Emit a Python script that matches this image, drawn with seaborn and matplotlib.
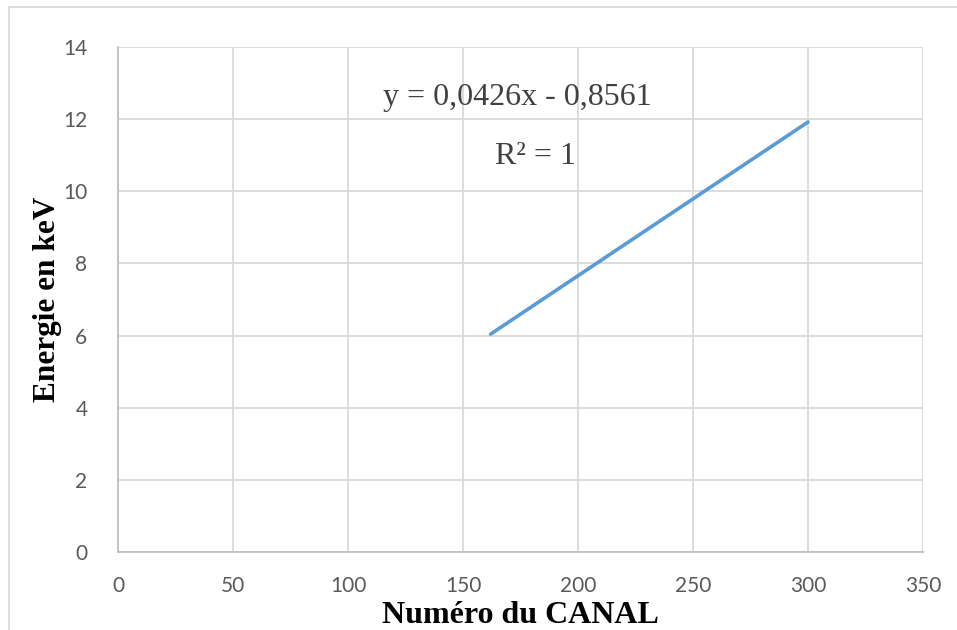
import matplotlib
matplotlib.use("Agg")
import matplotlib.pyplot as plt
import seaborn as sns
import pandas as pd
from matplotlib.patches import Rectangle

canal = [162, 300]
energie = [6.04, 11.92]
x_ticks = [0, 50, 100, 150, 200, 250, 300, 350]
y_ticks = [0, 2, 4, 6, 8, 10, 12, 14]
equation = "y = 0,0426x - 0,8561"
r2 = "R² = 1"

sns.set_theme(style="white")
plt.rcParams['font.family'] = ['Lato', 'DejaVu Sans']

df = pd.DataFrame({"canal": canal, "energie": energie})

fig = plt.figure(figsize=(9.57, 6.3), dpi=100)
ax = fig.add_axes([118/957, 1-552/630, (923-118)/957, (552-47)/630])

sns.lineplot(data=df, x="canal", y="energie", ax=ax, color="#5B9BD5", linewidth=2.6,
             solid_capstyle="round")

ax.set_xlim(0, 350)
ax.set_ylim(0, 14)
ax.set_xticks(x_ticks)
ax.set_yticks(y_ticks)
ax.grid(True, color="#D9D9D9", linewidth=1.3)
ax.set_axisbelow(True)
for s in ["top", "right"]:
    ax.spines[s].set_visible(False)
for s in ["left", "bottom"]:
    ax.spines[s].set_color("#BFBFBF")
    ax.spines[s].set_linewidth(1.3)
ax.tick_params(axis="both", length=0, labelsize=15, colors="#595959")
ax.tick_params(axis="y", pad=22)
ax.tick_params(axis="x", pad=17)

ax.set_xlabel("Numéro du CANAL", family=["Liberation Serif"], fontweight="bold",
              fontsize=23, color="black", labelpad=4)
ax.set_ylabel("Energie en keV", family=["Liberation Serif"], fontweight="bold",
              fontsize=22.5, color="black")
ax.yaxis.set_label_coords(-0.069, 0.5)

fig.text(517/957, 1-97/630, equation, family=["Liberation Serif"], fontsize=23,
         color="#404040", ha="center", va="center")
fig.text(535/957, 1-157/630, r2, family=["Liberation Serif"], fontsize=23,
         color="#404040", ha="center", va="center")

# outer chart frame
fig.patches.append(Rectangle((9/957, -0.1), 1.0, 1.1 - 7/630, transform=fig.transFigure,
                             fill=False, edgecolor="#D9D9D9", linewidth=1.3))

fig.savefig("out.png", dpi=100)
